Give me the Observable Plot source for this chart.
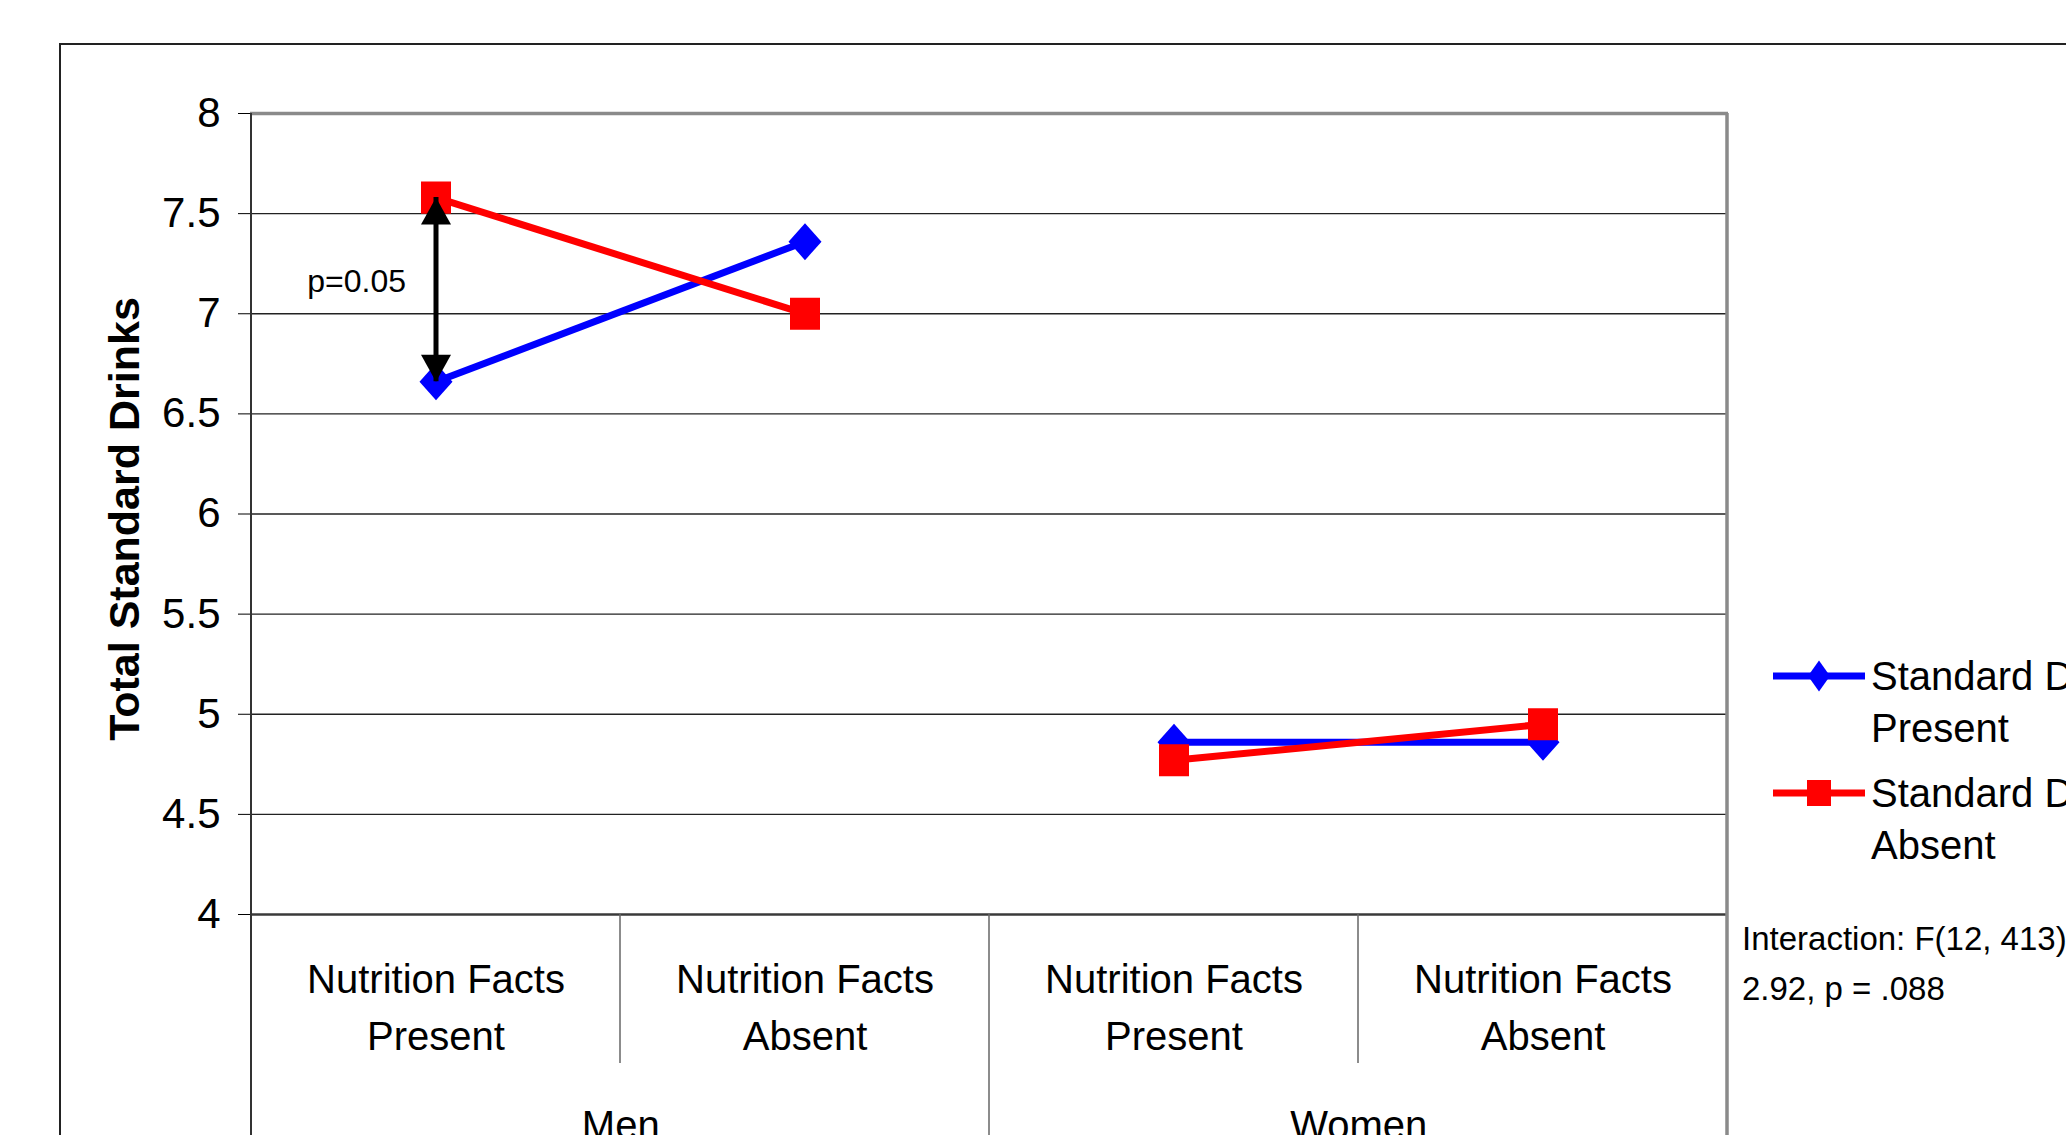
<!DOCTYPE html>
<html>
<head>
<meta charset="utf-8">
<title>Total Standard Drinks</title>
<script src="https://cdn.jsdelivr.net/npm/d3@7"></script>
<script src="https://cdn.jsdelivr.net/npm/@observablehq/plot@0.6"></script>
<style>
  html, body { margin: 0; padding: 0; background: #fff; }
  #page {
    position: relative; width: 2066px; height: 1135px; overflow: hidden;
    background: #fff; color: #000;
    font-family: "Liberation Sans", Arial, Helvetica, sans-serif;
  }
  /* chart-area border, running off the right and bottom edges */
  #chartFrame {
    position: absolute; left: 59px; top: 43px; width: 3000px; height: 3000px;
    border-top: 2px solid #222; border-left: 2px solid #222;
  }
  #chart { position: absolute; left: 0; top: 0; }
  .legend-swatch { position: absolute; }
  .legend-text {
    position: absolute; font-size: 40px; line-height: 52px;
    white-space: pre; color: #000;
  }
  #note {
    position: absolute; left: 1742px; top: 914px;
    font-size: 33px; line-height: 50px; white-space: pre; color: #000;
  }
</style>
</head>
<body>
<div id="page">
  <div id="chartFrame"></div>
  <div id="chart"></div>
  <div id="legend"></div>
  <div id="note"></div>
</div>
<script>
// ---- data -------------------------------------------------------------
const genders = ["Men", "Women"];
const nutritionFacts = ["Present", "Absent"];
const categoryLabels = ["Nutrition Facts\nPresent", "Nutrition Facts\nAbsent"];
const seriesNames = ["Standard Drinks Present", "Standard Drinks Absent"];
const seriesColors = ["#0000ff", "#ff0000"];
// values in category order: Men/Present, Men/Absent, Women/Present, Women/Absent
const drinksPresent = [6.66, 7.36, 4.86, 4.86];
const drinksAbsent = [7.58, 7.00, 4.77, 4.95];
const yTicks = [4, 4.5, 5, 5.5, 6, 6.5, 7, 7.5, 8];
const yTickLabels = ["4", "4.5", "5", "5.5", "6", "6.5", "7", "7.5", "8"];
const yLabel = "Total Standard Drinks";
const significance = "p=0.05";
const significanceLevel = 7.16;
const interactionNote = "Interaction: F(12, 413) =\n2.92, p = .088";

// ---- layout -----------------------------------------------------------
const W = 2066, H = 1135;
const margin = {top: 113, right: 338, bottom: 221, left: 250};
const labelDividerLength = 149;

// ---- derived tables ---------------------------------------------------
const cellKeys = genders.flatMap(g => nutritionFacts.map(n => `${g} / ${n}`));
const genderOfCell = genders.flatMap(g => nutritionFacts.map(() => g));
const seriesValues = [drinksPresent, drinksAbsent];
const rows = seriesNames.flatMap((s, si) =>
  cellKeys.map((cell, i) => ({
    cell, series: s, gender: genderOfCell[i],
    group: `${s}|${genderOfCell[i]}`, value: seriesValues[si][i]
  }))
);
const cellLabelRows = cellKeys.map((cell, i) => ({cell, label: categoryLabels[i % nutritionFacts.length]}));
const genderLabelRows = genders.map((g, i) => ({cell: cellKeys[i * nutritionFacts.length], gender: g}));
const arrowRows = [{cell: cellKeys[0], from: drinksAbsent[0], to: drinksPresent[0]}];
const noteRows = [{cell: cellKeys[0], value: significanceLevel, text: significance}];
const tickLabelOf = new Map(yTicks.map((t, i) => [t, yTickLabels[i]]));
const bandW = (W - margin.left - margin.right) / cellKeys.length;

// ---- marker shapes ----------------------------------------------------
const diamondSymbol = {draw(ctx, size) {
  const r = Math.sqrt(size / Math.PI);
  ctx.moveTo(0, -r * 1.12); ctx.lineTo(r, 0); ctx.lineTo(0, r * 1.12); ctx.lineTo(-r, 0); ctx.closePath();
}};
const squareSymbol = {draw(ctx, size) {
  const r = Math.sqrt(size / Math.PI);
  ctx.rect(-r, -r * 1.07, 2 * r, 2 * r * 1.07);
}};
const headUp = {draw(ctx, size) {
  const r = Math.sqrt(size / Math.PI);
  ctx.moveTo(0, 0); ctx.lineTo(r, 1.8 * r); ctx.lineTo(-r, 1.8 * r); ctx.closePath();
}};
const headDown = {draw(ctx, size) {
  const r = Math.sqrt(size / Math.PI);
  ctx.moveTo(0, 0); ctx.lineTo(r, -1.8 * r); ctx.lineTo(-r, -1.8 * r); ctx.closePath();
}};

// ---- chart ------------------------------------------------------------
const chart = Plot.plot({
  width: W, height: H,
  marginTop: margin.top, marginRight: margin.right,
  marginBottom: margin.bottom, marginLeft: margin.left,
  style: {fontFamily: '"Liberation Sans", Arial, Helvetica, sans-serif', fontSize: "42px", color: "#000", background: "transparent"},
  x: {type: "band", domain: cellKeys, padding: 0, axis: null},
  y: {domain: [d3.min(yTicks), d3.max(yTicks)], ticks: yTicks, tickSize: 12, tickPadding: 18,
      tickFormat: d => tickLabelOf.get(d), label: null},
  color: {domain: seriesNames, range: seriesColors},
  marks: [
    Plot.ruleY(yTicks.slice(1, -1), {stroke: "#222", strokeWidth: 1.3}),
    Plot.ruleY([d3.max(yTicks)], {stroke: "#8a8a8a", strokeWidth: 3.5}),
    Plot.ruleY([d3.min(yTicks)], {stroke: "#3a3a3a", strokeWidth: 2.5}),
    Plot.line(rows, {x: "cell", y: "value", z: "group", stroke: "series", strokeWidth: 7,
                     strokeLinecap: "butt", strokeLinejoin: "miter"}),
    Plot.dot(rows.filter(d => d.series === seriesNames[0]),
             {x: "cell", y: "value", symbol: diamondSymbol, r: 16.5, fill: "series", stroke: "none"}),
    Plot.dot(rows.filter(d => d.series === seriesNames[1]),
             {x: "cell", y: "value", symbol: squareSymbol, r: 15, fill: "series", stroke: "none"}),
    Plot.ruleX(arrowRows, {x: "cell", y1: "from", y2: "to", stroke: "#000", strokeWidth: 5}),
    Plot.dot(arrowRows, {x: "cell", y: "from", symbol: headUp, r: 15, fill: "#000", stroke: "none"}),
    Plot.dot(arrowRows, {x: "cell", y: "to", symbol: headDown, r: 15, fill: "#000", stroke: "none"}),
    Plot.text(noteRows, {x: "cell", y: "value", text: "text", textAnchor: "end", dx: -30, fontSize: 32}),
    Plot.text([yLabel], {frameAnchor: "left", textAnchor: "middle", rotate: -90, dx: -125, dy: 5,
                         fontWeight: "bold", fontSize: 43}),
    Plot.text(cellLabelRows, {x: "cell", text: "label", frameAnchor: "bottom", lineAnchor: "top",
                              dy: 38, lineHeight: 1.42, fontSize: 40}),
    Plot.text(genderLabelRows, {x: "cell", text: "gender", frameAnchor: "bottom", lineAnchor: "top",
                                dy: 196, dx: bandW / 2, fontSize: 40})
  ]
});
document.getElementById("chart").appendChild(chart);

// ---- category table lines below the plot area ------------------------
const xs = chart.scale("x"), ys = chart.scale("y");
const yTop = ys.apply(d3.max(yTicks)), yBottom = ys.apply(d3.min(yTicks));
const edges = cellKeys.map(k => xs.apply(k));
edges.push(xs.apply(cellKeys[cellKeys.length - 1]) + xs.bandwidth);
const dividers = d3.select(chart).append("g").attr("fill", "none");
edges.forEach((x, i) => {
  let y1 = yBottom, y2 = yBottom + labelDividerLength, stroke = "#666", sw = 1.5;
  if (i === 0) { y1 = yTop; y2 = H; stroke = "#333"; sw = 2; }
  else if (i === edges.length - 1) { y1 = yTop; y2 = H; stroke = "#8a8a8a"; sw = 3.5; }
  else if (genderOfCell[i] !== genderOfCell[i - 1]) { y2 = H; }
  dividers.append("line").attr("x1", x).attr("x2", x).attr("y1", y1).attr("y2", y2)
    .attr("stroke", stroke).attr("stroke-width", sw);
});

// ---- legend -----------------------------------------------------------
const legend = document.getElementById("legend");
const legendLeft = 1773, legendTextLeft = 1871, legendTop = 650, legendGap = 117;
const legendShapes = [
  "M46,4.5 L57,20 L46,35.5 L35,20 Z",
  "M34,7 L58,7 L58,33 L34,33 Z"
];
seriesNames.forEach((name, i) => {
  const top = legendTop + i * legendGap;
  const sw = document.createElementNS("http://www.w3.org/2000/svg", "svg");
  sw.setAttribute("class", "legend-swatch");
  sw.setAttribute("width", 92); sw.setAttribute("height", 40);
  sw.style.left = legendLeft + "px"; sw.style.top = (top + 6) + "px";
  sw.innerHTML = `<line x1="0" x2="92" y1="20" y2="20" stroke="${seriesColors[i]}" stroke-width="7"/>` +
                 `<path d="${legendShapes[i]}" fill="${seriesColors[i]}"/>`;
  legend.appendChild(sw);
  const t = document.createElement("div");
  t.className = "legend-text";
  t.style.left = legendTextLeft + "px"; t.style.top = top + "px";
  t.textContent = name.replace(/ (\S+)$/, "\n$1");
  legend.appendChild(t);
});

document.getElementById("note").textContent = interactionNote;
</script>
</body>
</html>
